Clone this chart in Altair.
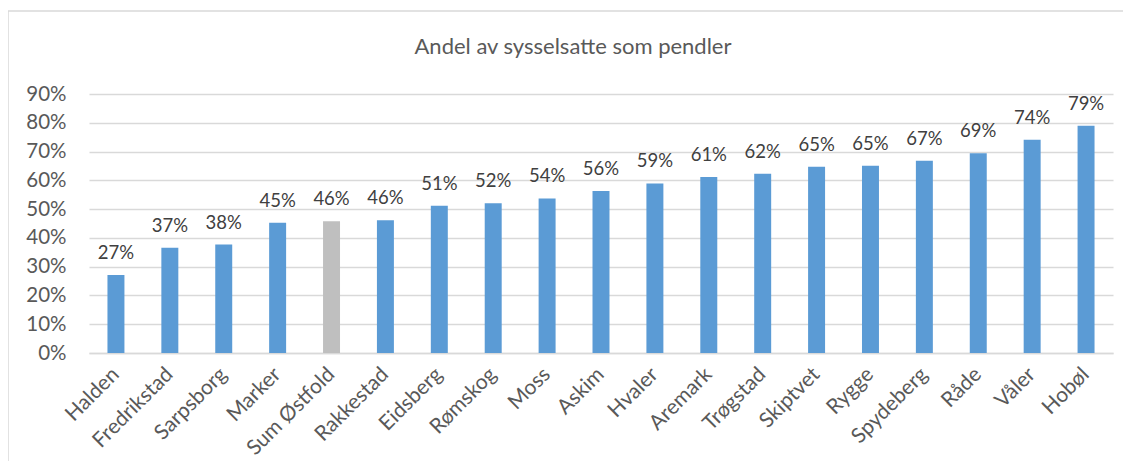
import altair as alt
import pandas as pd

kommuner = ["Halden", "Fredrikstad", "Sarpsborg", "Marker", "Sum Østfold", "Rakkestad",
            "Eidsberg", "Rømskog", "Moss", "Askim", "Hvaler", "Aremark", "Trøgstad",
            "Skiptvet", "Rygge", "Spydeberg", "Råde", "Våler", "Hobøl"]
andel = [0.271, 0.366, 0.377, 0.453, 0.458, 0.461, 0.512, 0.520, 0.537, 0.563,
         0.589, 0.612, 0.623, 0.647, 0.651, 0.668, 0.694, 0.741, 0.790]
gruppe = ["kommune"] * 4 + ["sum"] + ["kommune"] * 14

df = pd.DataFrame({"kommune": kommuner, "andel": andel, "gruppe": gruppe})

FONT = "Lato"
W, H = 1024, 259

x = alt.X("kommune:N", sort=None, title=None,
          scale=alt.Scale(paddingInner=0.685, paddingOuter=0.3425),
          axis=alt.Axis(labelAngle=315, labelAlign="right", labelBaseline="middle",
                        labelFontSize=21, labelColor="#595959", labelFont=FONT,
                        labelPadding=18, ticks=False, domainColor="#D9D9D9",
                        domainWidth=1.5, grid=False))
y = alt.Y("andel:Q", title=None,
          scale=alt.Scale(domain=[0, 0.9], nice=False),
          axis=alt.Axis(format=".0%", values=[i / 10 for i in range(10)],
                        labelFontSize=20.5, labelColor="#595959", labelFont=FONT,
                        labelPadding=23, ticks=False, domain=False,
                        gridColor="#D9D9D9", gridWidth=1.5))

bars = alt.Chart(df).mark_bar().encode(
    x=x, y=y,
    color=alt.Color("gruppe:N", legend=None,
                    scale=alt.Scale(domain=["kommune", "sum"], range=["#5B9BD5", "#BFBFBF"])),
)

labels = alt.Chart(df).mark_text(
    baseline="alphabetic", dy=-16, fontSize=18.5, font=FONT, color="#404040"
).encode(x=x, y=y, text=alt.Text("andel:Q", format=".0%"))

frame_top = alt.Chart().mark_rule(color="#D9D9D9", strokeWidth=1.5).encode(
    x=alt.value(-81), x2=alt.value(W + 30), y=alt.value(-83))
frame_left = alt.Chart().mark_rule(color="#D9D9D9", strokeWidth=1.5).encode(
    x=alt.value(-81), y=alt.value(-83), y2=alt.value(H + 120))

chart = alt.layer(frame_top, frame_left, bars, labels).properties(
    width=W, height=H,
    autosize=alt.AutoSizeParams(type="none"),
    padding={"left": 81, "top": 86, "right": 10, "bottom": 108},
    title=alt.TitleParams("Andel av sysselsatte som pendler", font=FONT, fontSize=22,
                          fontWeight="normal", color="#595959", anchor="middle",
                          offset=-49, dx=-28),
).configure_view(stroke=None)

chart.save("out.html", embed_options={"renderer": "svg", "actions": False})
